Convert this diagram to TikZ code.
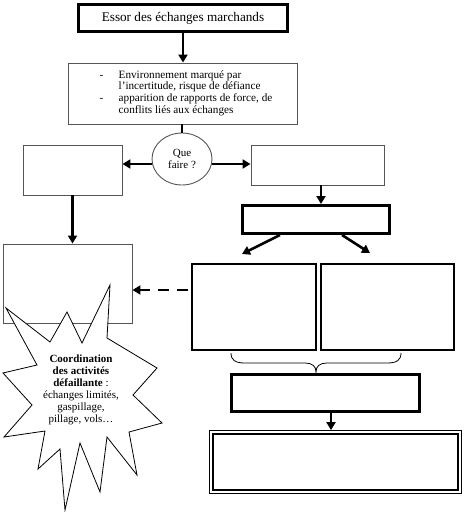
\documentclass[tikz,border=0pt]{standalone}
\usepackage{fontspec}
\setmainfont{Liberation Serif}
\usetikzlibrary{arrows.meta,shapes.geometric,calc}
\definecolor{thin}{RGB}{85,85,85}
\begin{document}
\begin{tikzpicture}[x=1pt,y=-1pt,
  box/.style={draw, rectangle, inner sep=0pt},
  thinbox/.style={box, draw=thin, line width=0.9pt},
  heavybox/.style={box, draw=black, line width=3pt},
  midbox/.style={box, draw=black, line width=2.2pt},
  arr/.style={draw=black, line width=2.6pt, -{Triangle[length=8pt,width=9pt]}},
  dasharr/.style={arr, dash pattern=on 11pt off 8pt},
  txt/.style={font=\fontsize{11}{12}\selectfont, align=center}
]
\useasboundingbox (0,0) rectangle (465,512);

% top box
\node[heavybox, minimum width=209pt, minimum height=27pt,
      font=\fontsize{13.2}{15}\selectfont] (top) at (183,18) {Essor des échanges marchands};

% environment box
\node[thinbox, minimum width=229pt, minimum height=61pt,
      font=\fontsize{11.2}{11.7}\selectfont] (env) at (182.5,93.5)
  {\hspace*{7pt}\begin{tabular}{@{}p{19pt}@{}l@{}}
    - & Environnement marqué par\\
      & l’incertitude, risque de défiance\\
    - & apparition de rapports de force, de\\
      & conflits liés aux échanges
   \end{tabular}};

% que faire
\node[draw=thin, line width=0.9pt, ellipse, minimum width=60pt, minimum height=52pt,
      inner sep=0pt, txt] (que) at (182,159) {Que\\faire ?};

% side boxes
\node[thinbox, minimum width=99pt, minimum height=50pt] (lb) at (72.5,170) {};
\node[thinbox, minimum width=133pt, minimum height=40pt] (rb) at (317.5,165) {};
\node[thinbox, minimum width=129pt, minimum height=79pt] (llb) at (67.5,283.5) {};

% right chain
\node[heavybox, minimum width=147pt, minimum height=28pt] (tb) at (316,219.5) {};
\node[midbox, minimum width=124pt, minimum height=86pt] (A) at (254,307) {};
\node[midbox, minimum width=133pt, minimum height=86pt] (B) at (387.5,307) {};
\node[heavybox, minimum width=188pt, minimum height=37pt] (C) at (325.5,393) {};
\node[box, draw=black, line width=0.8pt, minimum width=252pt, minimum height=63pt] (D) at (335.5,462) {};
\draw[line width=2.5pt] ($(D.north west)+(4,4)$) rectangle ($(D.south east)+(-4,-4)$);

% brace
\draw[thin, line width=0.8pt]
  (231,353) .. controls (231,360) and (235,363) .. (245,363) -- (305,363)
  .. controls (312,363) and (316,366) .. (316,372)
  .. controls (316,366) and (320,363) .. (327,363) -- (387,363)
  .. controls (397,363) and (401,360) .. (401,353);

% coordinates
\coordinate (yq) at (0,164);
\coordinate (yd) at (0,290);
\coordinate (a1) at (242,254);
\coordinate (b1) at (370,253);

% connectors
\draw[arr] (top.south) -- (top.south |- env.north);
\draw[draw=black, line width=2.6pt] (env.south -| que.north) -- (que.north);
\draw[arr] (que.west |- yq) -- (lb.east |- yq);
\draw[arr] (que.east |- yq) -- (rb.west |- yq);
\draw[arr] (lb.south) -- (lb.south |- llb.north);
\draw[arr] ([xshift=3.5pt]rb.south) -- ([xshift=3.5pt]rb.south |- tb.north);
\draw[arr] ([xshift=-36pt]tb.south) -- (a1);
\draw[arr] ([xshift=26pt]tb.south) -- (b1);
\draw[arr] ([xshift=5.5pt]C.south) -- ([xshift=5.5pt]C.south |- D.north);
\draw[dasharr, shorten <=3pt] (A.west |- yd) -- (llb.east |- yd);

% star
\draw[fill=white, line width=0.8pt, line join=miter]
  (110,285) -- (107,338) -- (157,368) -- (133,395) -- (162,423) -- (129,432)
  -- (137,475) -- (107,437) -- (100,492) -- (80,443) -- (65,510) -- (60,449)
  -- (38,469) -- (45,431) -- (4,437) -- (32,405) -- (3,373) -- (37,365)
  -- (6,308) -- (50,342) -- (67,312) -- (82,343) -- cycle;
\node[txt] (star) at (81,390)
  {\textbf{Coordination}\\\textbf{des activités}\\\textbf{défaillante} :\\échanges limités,\\gaspillage,\\pillage, vols…};
\end{tikzpicture}
\end{document}
